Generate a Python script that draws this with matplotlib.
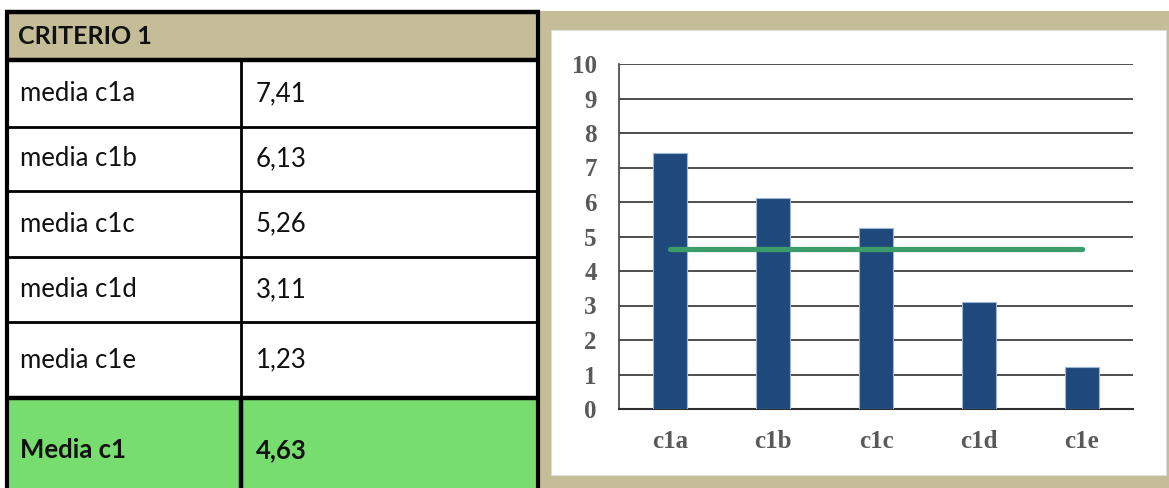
import matplotlib
matplotlib.use("Agg")
import matplotlib.pyplot as plt
from matplotlib.patches import Rectangle

categories = ["c1a", "c1b", "c1c", "c1d", "c1e"]
values = [7.41, 6.13, 5.26, 3.11, 1.23]
mean_value = 4.63
row_labels = ["media c1a", "media c1b", "media c1c", "media c1d", "media c1e"]
row_values = ["7,41", "6,13", "5,26", "3,11", "1,23"]
header = "CRITERIO 1"
total_label = "Media c1"
total_value = "4,63"
yticks = list(range(0, 11))

W, H = 1169, 488
fig = plt.figure(figsize=(W / 100, H / 100), dpi=100)
fig.patch.set_facecolor("white")

# background axes in pixel coordinates
bg = fig.add_axes([0, 0, 1, 1])
bg.set_xlim(0, W)
bg.set_ylim(H, 0)
bg.axis("off")

beige = "#c4bd97"
green = "#77dd6e"
sans = ["Lato", "DejaVu Sans"]

# chart frame
bg.add_patch(Rectangle((538, 11), W - 538, H - 11, facecolor=beige, edgecolor="none"))
bg.add_patch(Rectangle((551, 30), 1166 - 551, 475 - 30, facecolor="white", edgecolor="#dddddd", lw=0.8))

# table
bg.add_patch(Rectangle((6, 12), 532 - 6 + 4, 60 - 12, facecolor=beige, edgecolor="none"))
bg.add_patch(Rectangle((6, 398), 532 - 6 + 4, H - 398, facecolor=green, edgecolor="none"))
row_lines = [60, 127, 191, 257, 322, 398]
for i, y in enumerate(row_lines):
    lw = 3.2 if i in (0, len(row_lines) - 1) else 2.0
    bg.plot([6, 538], [y, y], color="black", lw=lw, solid_capstyle="butt")
bg.plot([5, 540], [11.5, 11.5], color="black", lw=3.2, solid_capstyle="butt")
bg.plot([6.5, 6.5], [10, H], color="black", lw=3.0, solid_capstyle="butt")
bg.plot([537.5, 537.5], [10, H], color="black", lw=3.0, solid_capstyle="butt")
bg.plot([241, 241], [60, 398], color="black", lw=2.0, solid_capstyle="butt")
bg.plot([241, 241], [398, H], color="black", lw=3.2, solid_capstyle="butt")

fs = 18.5
bg.text(18, 37, header, fontsize=18, fontweight="bold", family=sans, va="center", ha="left", color="#111111")
for i, (lab, val) in enumerate(zip(row_labels, row_values)):
    yc = (row_lines[i] + row_lines[i + 1]) / 2
    bg.text(20, yc, lab, fontsize=fs, family=sans, va="center", ha="left", color="#111111")
    bg.text(256, yc, val, fontsize=fs, family=sans, va="center", ha="left", color="#111111")
bg.text(20, 450, total_label, fontsize=fs, fontweight="bold", family=sans, va="center", ha="left", color="#111111")
bg.text(256, 450, total_value, fontsize=fs, fontweight="bold", family=sans, va="center", ha="left", color="#111111")

# chart axes
x0, x1 = 619, 1133
y0, y1 = 409, 64
ax = fig.add_axes([x0 / W, (H - y0) / H, (x1 - x0) / W, (y0 - y1) / H])
ax.set_facecolor("none")
xs = list(range(len(categories)))
ax.bar(xs, values, width=0.33, color="#1f497d", edgecolor="#9db5d6", linewidth=0.8, zorder=3)
ax.plot(xs, [mean_value] * len(xs), color="#3a9d6a", lw=3.8, solid_capstyle="round", zorder=4)
ax.set_xlim(-0.5, len(categories) - 0.5)
ax.set_ylim(0, 10)
ax.set_yticks(yticks)
ax.yaxis.grid(True, color="#404040", lw=1.3, zorder=1)
ax.set_axisbelow(True)
for s in ["top", "right"]:
    ax.spines[s].set_visible(False)
ax.spines["left"].set_color("#404040")
ax.spines["left"].set_linewidth(1.2)
ax.spines["bottom"].set_color("#303030")
ax.spines["bottom"].set_linewidth(1.5)
ax.set_xticks(xs)
ax.set_xticklabels(categories)
ax.tick_params(axis="both", length=0, colors="#595959")
ax.tick_params(axis="y", pad=16)
ax.tick_params(axis="x", pad=15)
for lab in ax.get_xticklabels() + ax.get_yticklabels():
    lab.set_family(["Liberation Serif", "DejaVu Serif"])
    lab.set_fontweight("bold")
    lab.set_fontsize(18)
    lab.set_color("#595959")
for lab in ax.get_yticklabels():
    lab.set_horizontalalignment("right")

fig.savefig("out.png", dpi=100)
